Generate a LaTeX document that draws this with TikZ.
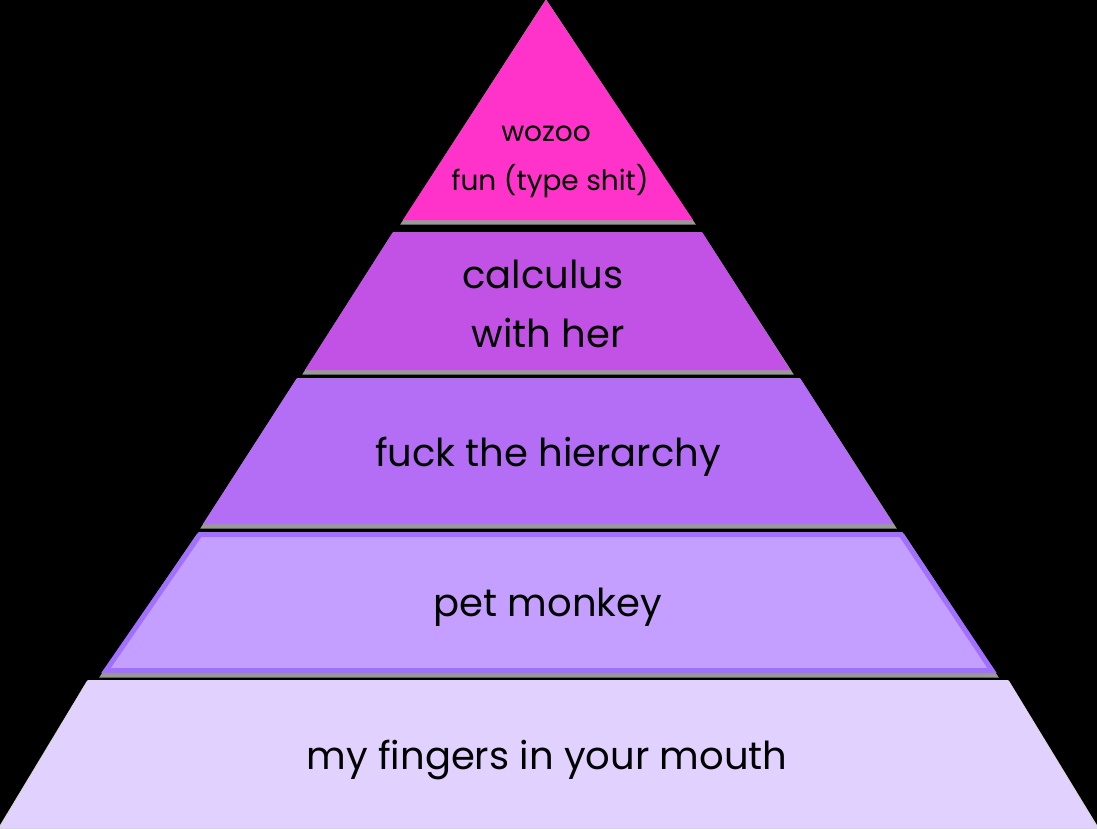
\documentclass[tikz,border=0pt]{standalone}
\usepackage{fontspec}
\setmainfont{Poppins}
\definecolor{cTop}{HTML}{FF33C9}
\definecolor{cCalc}{HTML}{C251E6}
\definecolor{cFuck}{HTML}{B46EF5}
\definecolor{cPet}{HTML}{C59FFF}
\definecolor{cPetLine}{HTML}{A270FF}
\definecolor{cBot}{HTML}{E1D1FF}
\definecolor{cShade}{HTML}{999999}
\begin{document}
\begin{tikzpicture}[x=1pt,y=-1pt,
  shade/.style={fill=cShade,draw=cShade,line width=3pt,line join=miter},
  lbl/.style={text=black,font=\fontsize{38.5}{46}\selectfont,align=center},
  small/.style={text=black,font=\fontsize{28}{34}\selectfont,align=center}]
\fill[black] (0,0) rectangle (1097,828);
\useasboundingbox (0,0) rectangle (1097,828);
% top triangle
\path[shade] (546,2) -- (693,223) -- (403,223) -- cycle;
\fill[cTop] (546,0) -- (693,220) -- (403,220) -- cycle;
% calculus
\path[shade] (393,235) -- (702,235) -- (791,373) -- (305,373) -- cycle;
\fill[cCalc] (393,232) -- (702,232) -- (790,370) -- (305,370) -- cycle;
% fuck the hierarchy
\path[shade] (297,381) -- (800,381) -- (894,527) -- (203,527) -- cycle;
\fill[cFuck] (297,378) -- (800,378) -- (893,524) -- (203,524) -- cycle;
% pet monkey
\path[shade] (198,535) -- (903,535) -- (996,676) -- (102,676) -- cycle;
\filldraw[fill=cPet,draw=cPetLine,line width=5pt,line join=miter] (200,534.5) -- (901,534.5) -- (992,670.5) -- (106,670.5) -- cycle;
% bottom
\path[fill=cShade!40,draw=cShade!40,line width=3pt] (88,682) -- (1008,682) -- (1097,828) -- (0,828) -- cycle;
\fill[cBot] (88,680) -- (1008,680) -- (1097,828) -- (0,828) -- cycle;
% labels
\node[small] (t1) at (546,134) {wozoo};
\node[small] (t2) at (550,181) {fun (type shit)};
\node[lbl] (c1) at (543,274) {calculus};
\node[lbl] (c2) at (548,333) {with her};
\node[lbl] (f1) at (548,457) {fuck the hierarchy};
\node[lbl] (p1) at (548,607) {pet monkey};
\node[lbl] (m1) at (547,760) {my fingers in your mouth};
\end{tikzpicture}
\end{document}
